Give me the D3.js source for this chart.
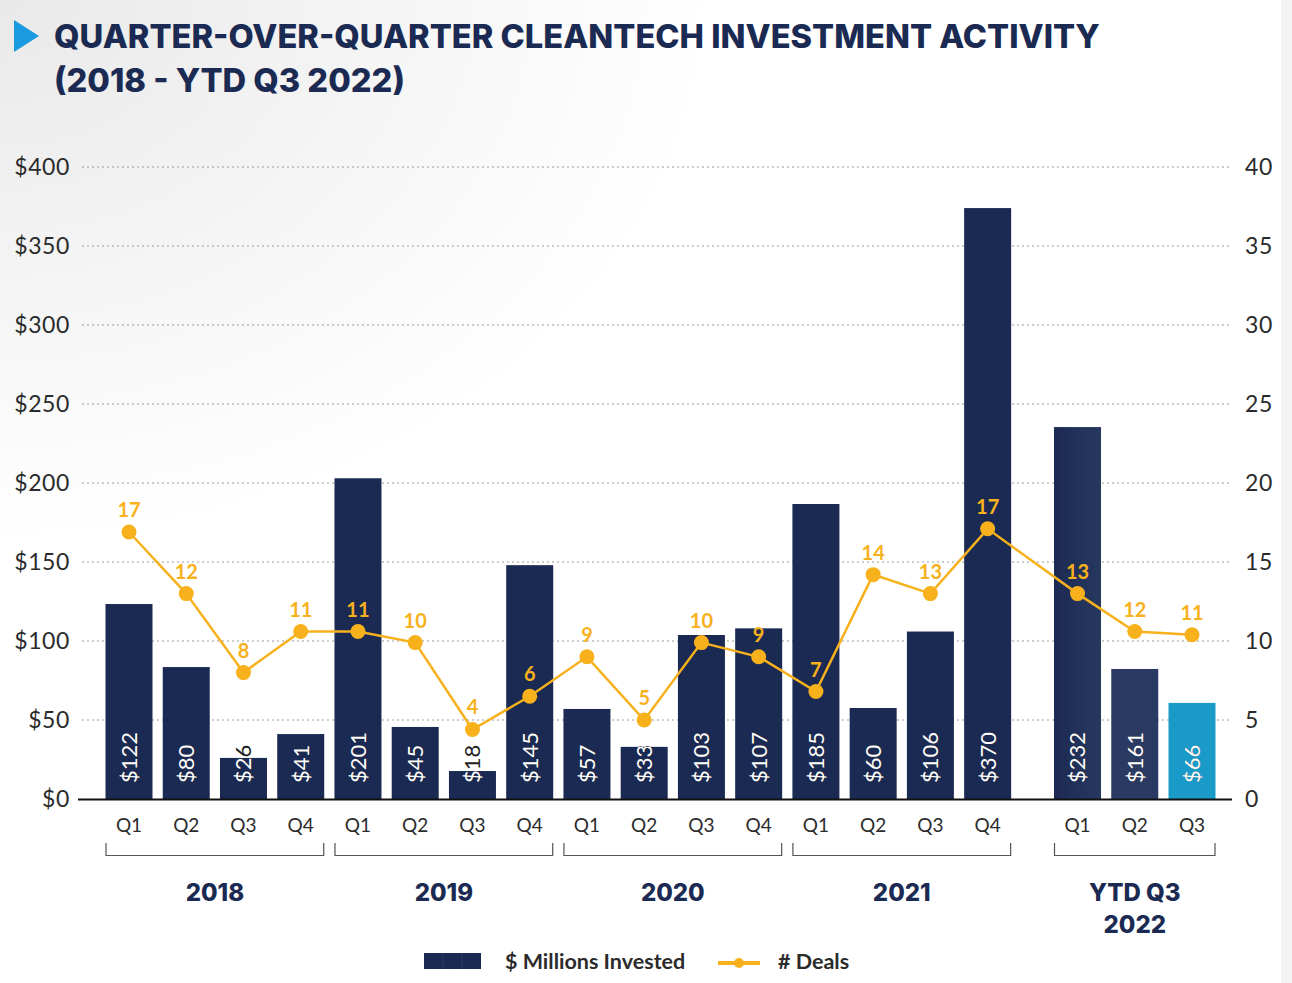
<!DOCTYPE html>
<html>
<head>
<meta charset="utf-8">
<script src="https://cdn.jsdelivr.net/npm/d3@7"></script>
<style>
  html, body { margin: 0; padding: 0; background: #fff; }
  svg { display: block; font-family: Lato, "Open Sans", sans-serif; }
</style>
</head>
<body>
<svg id="chart" width="1292" height="983"></svg>
<script>
// data
var quarters = ['Q1', 'Q2', 'Q3', 'Q4', 'Q1', 'Q2', 'Q3', 'Q4', 'Q1', 'Q2', 'Q3', 'Q4',
  'Q1', 'Q2', 'Q3', 'Q4', 'Q1', 'Q2', 'Q3'];
var years = ['2018', '2018', '2018', '2018', '2019', '2019', '2019', '2019', '2020', '2020', '2020', '2020',
  '2021', '2021', '2021', '2021', 'YTD Q3 2022', 'YTD Q3 2022', 'YTD Q3 2022'];
var invested = [123.4, 83.5, 26, 41.1, 203, 45.6, 17.7, 148, 57, 33, 103.8, 108,
  186.7, 57.6, 106, 374, 235.4, 82.3, 60.8];
var investedLabels = ['$122', '$80', '$26', '$41', '$201', '$45', '$18', '$145', '$57', '$33', '$103', '$107',
  '$185', '$60', '$106', '$370', '$232', '$161', '$66'];
var deals = [16.9, 13.0, 8.0, 10.6, 10.6, 9.9, 4.4, 6.5, 9.0, 5.0, 9.9, 9.0,
  6.8, 14.2, 13.0, 17.1, 13.0, 10.6, 10.4];
var dealLabels = ['17', '12', '8', '11', '11', '10', '4', '6', '9', '5', '10', '9',
  '7', '14', '13', '17', '13', '12', '11'];
var leftTicks = [0, 50, 100, 150, 200, 250, 300, 350, 400];
var rightTicks = [0, 5, 10, 15, 20, 25, 30, 35, 40];

var navy = '#1b2a52';
var orange = '#f7b11c';

var svg = d3.select('#chart');

// background
var defs = svg.append('defs');
var bg = defs.append('radialGradient').attr('id', 'bg')
  .attr('cx', 0).attr('cy', 0).attr('r', 0.55);
bg.append('stop').attr('offset', '0%').attr('stop-color', '#e9e9e9');
bg.append('stop').attr('offset', '100%').attr('stop-color', '#ffffff');
var barGrad = defs.append('linearGradient').attr('id', 'barGrad');
barGrad.append('stop').attr('offset', '0%').attr('stop-color', '#1c2a53');
barGrad.append('stop').attr('offset', '100%').attr('stop-color', '#27385f');

svg.append('rect').attr('width', 1292).attr('height', 983).attr('fill', 'url(#bg)');
svg.append('rect').attr('x', 1281).attr('width', 11).attr('height', 983).attr('fill', '#f3f3f3');

// title
svg.append('path').attr('d', 'M14,20 L14,52 L39,36 Z').attr('fill', '#1a9be0');
var t1 = svg.append('text').attr('x', 54).attr('y', 48)
  .attr('font-family', 'Inter, Lato, sans-serif').attr('font-weight', 800)
  .attr('font-size', 31).attr('fill', navy)
  .text('QUARTER-OVER-QUARTER CLEANTECH INVESTMENT ACTIVITY');
var fs = 31 * 1046 / t1.node().getComputedTextLength();
t1.attr('font-size', fs);
svg.append('text').attr('x', 54).attr('y', 92)
  .attr('font-family', 'Inter, Lato, sans-serif').attr('font-weight', 800)
  .attr('font-size', fs).attr('fill', navy)
  .text('(2018 - YTD Q3 2022)');

// scales
var slots = years.map((d, i) => i + (d.indexOf('2022') >= 0 ? 0.57 : 0));
var x = d3.scaleLinear().domain([0, 18.57]).range([129, 1192]);
var y = d3.scaleLinear().domain([0, 400]).range([799, 167]);
var y2 = d3.scaleLinear().domain([0, 40]).range([799, 167]);
var barW = 47;

// grid + axis labels
var plotL = 82, plotR = 1232;
svg.append('g').selectAll('line').data(leftTicks.slice(1)).enter().append('line')
  .attr('x1', plotL).attr('x2', plotR)
  .attr('y1', d => y(d)).attr('y2', d => y(d))
  .attr('stroke', '#9a9a9a').attr('stroke-width', 1).attr('stroke-dasharray', '2,3');

var yAxis = d3.axisLeft(y).tickValues(leftTicks).tickFormat(d => '$' + d).tickSize(0).tickPadding(0);
svg.append('g').attr('transform', 'translate(70,0)').call(yAxis)
  .call(g => g.select('.domain').remove())
  .selectAll('text').attr('font-size', 23).attr('letter-spacing', 0.6)
  .attr('fill', '#2b2b2b').attr('font-family', 'Lato, sans-serif');

var yAxis2 = d3.axisRight(y2).tickValues(rightTicks).tickSize(0).tickPadding(0);
svg.append('g').attr('transform', 'translate(1245,0)').call(yAxis2)
  .call(g => g.select('.domain').remove())
  .selectAll('text').attr('font-size', 23).attr('letter-spacing', 0.6)
  .attr('fill', '#2b2b2b').attr('font-family', 'Lato, sans-serif');

// bars
function barFill(i) {
  if (i === 16) return 'url(#barGrad)';
  if (i === 17) return '#2b3a62';
  if (i === 18) return '#1a9ac8';
  return navy;
}
invested.forEach((v, i) => {
  defs.append('clipPath').attr('id', 'clip' + i).append('rect')
    .attr('x', x(slots[i]) - barW / 2).attr('y', y(v))
    .attr('width', barW).attr('height', y(0) - y(v));
});
svg.append('g').selectAll('rect').data(invested).enter().append('rect')
  .attr('x', (d, i) => x(slots[i]) - barW / 2)
  .attr('y', d => y(d))
  .attr('width', barW)
  .attr('height', d => y(0) - y(d))
  .attr('fill', (d, i) => barFill(i));

// bar value labels: dark outside the bar, white inside it
svg.append('g').selectAll('text').data(investedLabels).enter().append('text')
  .attr('transform', (d, i) => 'translate(' + x(slots[i]) + ',783) rotate(-90)')
  .attr('dy', '0.36em')
  .attr('font-size', 22).attr('fill', '#1e1e1e')
  .text(d => d);
var wl = svg.append('g');
investedLabels.forEach((d, i) => {
  wl.append('g').attr('clip-path', 'url(#clip' + i + ')')
    .append('text')
    .attr('transform', 'translate(' + x(slots[i]) + ',783) rotate(-90)')
    .attr('dy', '0.36em')
    .attr('font-size', 22).attr('fill', '#fff')
    .text(d);
});

// baseline
svg.append('line').attr('x1', 78).attr('x2', plotR).attr('y1', 799.5).attr('y2', 799.5)
  .attr('stroke', '#111').attr('stroke-width', 1.8);

// deals line
var line = d3.line().x((d, i) => x(slots[i])).y(d => y2(d));
svg.append('path').datum(deals).attr('d', line)
  .attr('fill', 'none').attr('stroke', orange).attr('stroke-width', 2.5);
svg.append('g').selectAll('circle').data(deals).enter().append('circle')
  .attr('cx', (d, i) => x(slots[i])).attr('cy', d => y2(d)).attr('r', 7.5)
  .attr('fill', orange);
svg.append('g').selectAll('text').data(deals).enter().append('text')
  .attr('x', (d, i) => x(slots[i])).attr('y', d => y2(d) - 15)
  .attr('text-anchor', 'middle').attr('font-size', 20).attr('font-weight', 700)
  .attr('fill', orange)
  .text((d, i) => dealLabels[i]);

// quarter labels
svg.append('g').selectAll('text').data(quarters).enter().append('text')
  .attr('x', (d, i) => x(slots[i])).attr('y', 832)
  .attr('text-anchor', 'middle').attr('font-size', 19).attr('fill', '#2b2b2b')
  .text(d => d);

// year brackets
var groups = Array.from(d3.group(years.map((d, i) => ({ year: d, i: i })), d => d.year),
  ([k, v]) => ({ year: k, first: v[0].i, last: v[v.length - 1].i }));
var gb = svg.append('g');
groups.forEach(g => {
  var x0 = x(slots[g.first]) - 23, x1 = x(slots[g.last]) + 23;
  gb.append('path').attr('d', 'M' + x0 + ',843 V855.5 H' + x1 + ' V843')
    .attr('fill', 'none').attr('stroke', '#555').attr('stroke-width', 1.2);
  var parts = g.year.indexOf('YTD') === 0 ? ['YTD Q3', '2022'] : [g.year];
  parts.forEach((p, j) => {
    gb.append('text').attr('x', (x0 + x1) / 2).attr('y', 901 + j * 32)
      .attr('text-anchor', 'middle').attr('font-size', 24).attr('font-weight', 800)
      .attr('font-family', 'Inter, Lato, sans-serif').attr('fill', navy)
      .text(p);
  });
});

// legend
var lg = svg.append('g');
lg.append('rect').attr('x', 424).attr('y', 953).attr('width', 57).attr('height', 16).attr('fill', navy);
[443, 462].forEach(xx => lg.append('line').attr('x1', xx).attr('x2', xx).attr('y1', 953).attr('y2', 969)
  .attr('stroke', '#2c3b63').attr('stroke-width', 1));
lg.append('text').attr('x', 505).attr('y', 969).attr('font-size', 21.5).attr('font-weight', 700)
  .attr('fill', '#2b2b2b').text('$ Millions Invested');
lg.append('line').attr('x1', 718).attr('x2', 760).attr('y1', 963).attr('y2', 963)
  .attr('stroke', orange).attr('stroke-width', 4);
lg.append('circle').attr('cx', 739).attr('cy', 963).attr('r', 5).attr('fill', orange);
lg.append('text').attr('x', 778).attr('y', 969).attr('font-size', 21.5).attr('font-weight', 700)
  .attr('fill', '#2b2b2b').text('# Deals');
</script>
</body>
</html>
